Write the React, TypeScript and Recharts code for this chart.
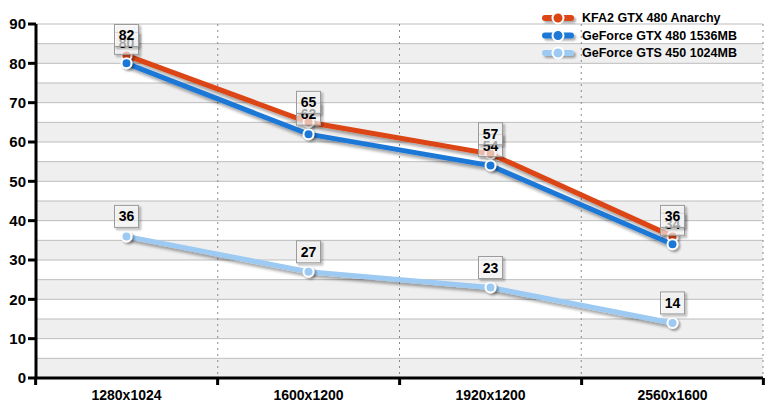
import React from 'react';
import { LineChart, Line, XAxis, YAxis, CartesianGrid, Legend, LabelList } from 'recharts';

const categories = ['1280x1024', '1600x1200', '1920x1200', '2560x1600'];
const kfa2Values = [82, 65, 57, 36];
const gtx480Values = [80, 62, 54, 34];
const gts450Values = [36, 27, 23, 14];
const yTicks = [0, 10, 20, 30, 40, 50, 60, 70, 80, 90];
const gridTicks = [0, 5, 10, 15, 20, 25, 30, 35, 40, 45, 50, 55, 60, 65, 70, 75, 80, 85, 90];
const Y_MAX = 90;

const seriesNames = ['KFA2 GTX 480 Anarchy', 'GeForce GTX 480 1536MB', 'GeForce GTS 450 1024MB'];
const seriesKeys = ['kfa2', 'gtx480', 'gts450'];
const seriesColors = ['#dc4412', '#1f78d6', '#9ccaf2'];

const data = categories.map((cat, i) => ({
  cat,
  kfa2: kfa2Values[i],
  gtx480: gtx480Values[i],
  gts450: gts450Values[i],
}));

const FONT = '"Liberation Sans", Arial, sans-serif';
const TICK_MARGIN = 12;

const ValueLabel = (props: any) => {
  const { x, y, value } = props;
  if (x == null || y == null) return null;
  return (
    <g>
      <rect
        x={x - 12}
        y={y - 31}
        width={24}
        height={22}
        fill="#fff"
        fillOpacity={0.6}
        stroke="#9a9a9a"
        strokeWidth={1}
        filter="url(#boxShadow)"
      />
      <text
        x={x}
        y={y - 20}
        textAnchor="middle"
        dominantBaseline="central"
        fontSize={14}
        fontWeight="bold"
        fontFamily={FONT}
        fill="#000"
      >
        {value}
      </text>
    </g>
  );
};

const CategoryTick = (props: any) => {
  const { x, y, payload, width, visibleTicksCount, index } = props;
  const count = visibleTicksCount || categories.length;
  const half = (width || 0) / count / 2;
  const axisY = y - TICK_MARGIN;
  const isLast = index === count - 1;
  return (
    <g>
      <line x1={x - half} x2={x - half} y1={axisY} y2={axisY + 7} stroke="#000" strokeWidth={3} />
      {isLast && <line x1={x + half} x2={x + half} y1={axisY} y2={axisY + 7} stroke="#000" strokeWidth={3} />}
      <text
        x={x}
        y={axisY + 17}
        textAnchor="middle"
        dominantBaseline="central"
        fontSize={14}
        fontWeight="bold"
        fontFamily={FONT}
        fill="#000"
      >
        {payload.value}
      </text>
    </g>
  );
};

const LegendContent = () => (
  <svg width={232} height={56} style={{ display: 'block', overflow: 'visible' }}>
    {seriesNames.map((name, i) => {
      const cy = 10 + i * 17.5;
      return (
        <g key={name}>
          <rect x={4} y={cy - 3} width={32} height={6} rx={3} fill={seriesColors[i]} filter="url(#boxShadow)" />
          <circle cx={20} cy={cy} r={5.5} fill={seriesColors[i]} stroke="#fff" strokeWidth={2} />
          <text x={44} y={cy} dominantBaseline="central" fontSize={12.5} fontWeight="bold" fontFamily={FONT} fill="#000">
            {name}
          </text>
        </g>
      );
    })}
  </svg>
);

export default function App() {
  return (
    <div style={{ position: 'absolute', left: 0, top: 0 }}>
      <LineChart
        width={773}
        height={413}
        data={data}
        margin={{ top: 24, right: 10, left: 0, bottom: 0 }}
        style={{ fontFamily: FONT }}
      >
        <defs>
          <filter id="lineShadow" x="-20%" y="-20%" width="140%" height="160%">
            <feDropShadow dx={2} dy={3} stdDeviation={1.6} floodColor="#000" floodOpacity={0.35} />
          </filter>
          <filter id="boxShadow" x="-30%" y="-40%" width="170%" height="200%">
            <feDropShadow dx={2} dy={2} stdDeviation={1.2} floodColor="#000" floodOpacity={0.35} />
          </filter>
        </defs>
        <CartesianGrid
          vertical={false}
          stroke="#bdbdbd"
          horizontalFill={['#ffffff', '#efefef']}
          fillOpacity={1}
          syncWithTicks={false}
          horizontalCoordinatesGenerator={(p: any) =>
            gridTicks.map((v) => p.offset.top + p.offset.height * (1 - v / Y_MAX))
          }
        />
        <CartesianGrid
          horizontal={false}
          stroke="#8a8a8a"
          strokeDasharray="2 4"
          syncWithTicks={false}
          verticalCoordinatesGenerator={(p: any) =>
            categories.map((_, i) => p.offset.left + (p.offset.width * (i + 1)) / categories.length)
          }
        />
        <XAxis
          dataKey="cat"
          padding={{ left: 90.5, right: 90.5 }}
          axisLine={{ stroke: '#000', strokeWidth: 3 }}
          tickLine={false}
          tickSize={0}
          height={35}
          tickMargin={TICK_MARGIN}
          interval={0}
          tick={<CategoryTick />}
        />
        <YAxis
          domain={[0, Y_MAX]}
          ticks={yTicks}
          width={36}
          tickSize={8}
          tickMargin={2}
          interval={0}
          axisLine={{ stroke: '#000', strokeWidth: 3 }}
          tickLine={{ stroke: '#000', strokeWidth: 3 }}
          tick={{ fontSize: 15, fontWeight: 'bold', fill: '#000', fontFamily: FONT }}
        />
        <Line
          dataKey={seriesKeys[0]}
          name={seriesNames[0]}
          stroke={seriesColors[0]}
          strokeWidth={5}
          filter="url(#lineShadow)"
          dot={{ r: 5, fill: seriesColors[0], stroke: '#fff', strokeWidth: 2, filter: 'url(#boxShadow)' }}
          activeDot={false}
          isAnimationActive={false}
        />
        <Line
          dataKey={seriesKeys[1]}
          name={seriesNames[1]}
          stroke={seriesColors[1]}
          strokeWidth={5}
          filter="url(#lineShadow)"
          dot={{ r: 5, fill: seriesColors[1], stroke: '#fff', strokeWidth: 2, filter: 'url(#boxShadow)' }}
          activeDot={false}
          isAnimationActive={false}
        >
          <LabelList dataKey={seriesKeys[1]} content={<ValueLabel />} />
        </Line>
        <Line
          dataKey={seriesKeys[2]}
          name={seriesNames[2]}
          stroke={seriesColors[2]}
          strokeWidth={5}
          filter="url(#lineShadow)"
          dot={{ r: 5, fill: seriesColors[2], stroke: '#fff', strokeWidth: 2, filter: 'url(#boxShadow)' }}
          activeDot={false}
          isAnimationActive={false}
        >
          <LabelList dataKey={seriesKeys[2]} content={<ValueLabel />} />
        </Line>
        <Line
          dataKey={seriesKeys[0]}
          legendType="none"
          stroke="none"
          dot={false}
          activeDot={false}
          isAnimationActive={false}
        >
          <LabelList dataKey={seriesKeys[0]} content={<ValueLabel />} />
        </Line>
        <Legend
          layout="vertical"
          align="center"
          verticalAlign="middle"
          wrapperStyle={{ left: 538, top: 8, width: 232, height: 56 }}
          content={<LegendContent />}
        />
      </LineChart>
    </div>
  );
}
